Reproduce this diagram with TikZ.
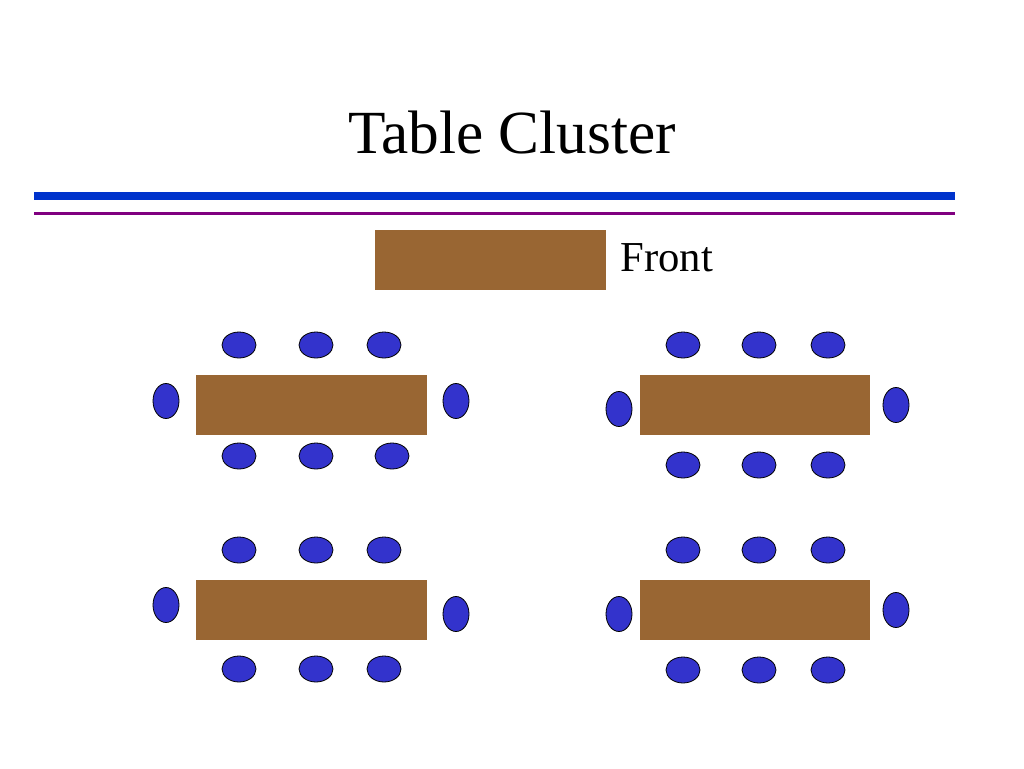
\documentclass[tikz,border=0pt]{standalone}
\usepackage{fontspec}
\setmainfont{Liberation Serif}
\usetikzlibrary{shapes.geometric}

\definecolor{wood}{RGB}{153,102,51}
\definecolor{seatblue}{RGB}{51,51,204}
\definecolor{ruleblue}{RGB}{0,51,204}
\definecolor{rulepurple}{RGB}{128,0,128}

\begin{document}
\begin{tikzpicture}[x = 0.75pt, y = -0.75pt,
                        desk/.style = {rectangle, fill = wood, inner sep = 0pt,
                                       minimum width = 173pt, minimum height = 45pt},
                        seat/.style = {ellipse, draw, line width = 0.6pt, fill = seatblue, inner sep = 0pt,
                                       minimum width = 25.5pt, minimum height = 19.5pt},
                        sideseat/.style = {seat, minimum width = 19.5pt, minimum height = 26.25pt}]
      \useasboundingbox (0, 0) rectangle (1024, 768);

      \node [anchor = base, font = \fontsize{46}{50}\selectfont] (title) at (512, 153){Table Cluster};
      \draw [ruleblue, line width = 6pt] (34, 196) -- (955, 196);
      \draw [rulepurple, line width = 2.6pt] (34, 213.5) -- (955, 213.5);

      \node [desk] (front) at (490.5, 260){};
      \node [anchor = base west, font = \fontsize{32}{36}\selectfont] (frontlabel) at (616, 271){Front};

      % top left
      \node [desk] (tl) at (311.5, 405){};
      \node [seat] (tl1) at (239, 345){};
      \node [seat] (tl2) at (316, 345){};
      \node [seat] (tl3) at (384, 345){};
      \node [seat] (tl4) at (239, 456){};
      \node [seat] (tl5) at (316, 456){};
      \node [seat] (tl6) at (392, 456){};
      \node [sideseat] (tl7) at (166, 401){};
      \node [sideseat] (tl8) at (456, 401){};

      % top right
      \node [desk] (tr) at (755, 405){};
      \node [seat] (tr1) at (683, 345){};
      \node [seat] (tr2) at (759, 345){};
      \node [seat] (tr3) at (828, 345){};
      \node [seat] (tr4) at (683, 465){};
      \node [seat] (tr5) at (759, 465){};
      \node [seat] (tr6) at (828, 465){};
      \node [sideseat] (tr7) at (619, 409){};
      \node [sideseat] (tr8) at (896, 405){};

      % bottom left
      \node [desk] (bl) at (311.5, 609.5){};
      \node [seat] (bl1) at (239, 550){};
      \node [seat] (bl2) at (316, 550){};
      \node [seat] (bl3) at (384, 550){};
      \node [seat] (bl4) at (239, 669){};
      \node [seat] (bl5) at (316, 669){};
      \node [seat] (bl6) at (384, 669){};
      \node [sideseat] (bl7) at (166, 605){};
      \node [sideseat] (bl8) at (456, 614){};

      % bottom right
      \node [desk] (br) at (755, 609.5){};
      \node [seat] (br1) at (683, 550){};
      \node [seat] (br2) at (759, 550){};
      \node [seat] (br3) at (828, 550){};
      \node [seat] (br4) at (683, 670){};
      \node [seat] (br5) at (759, 670){};
      \node [seat] (br6) at (828, 670){};
      \node [sideseat] (br7) at (619, 614){};
      \node [sideseat] (br8) at (896, 610){};
      \end{tikzpicture}
\end{document}
